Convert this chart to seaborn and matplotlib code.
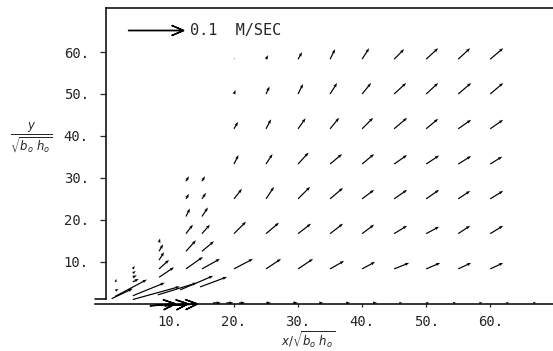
import numpy as np
import pandas as pd
import matplotlib
matplotlib.use("Agg")
import matplotlib.pyplot as plt
import seaborn as sns

# regular measuring grid, positions in x/sqrt(b0 h0), y/sqrt(b0 h0)
grid_x = [20, 25, 30, 35, 40, 45, 50, 55, 60]
grid_y = [58.3, 50.0, 41.7, 33.3, 25.0, 16.7, 8.3]

# velocity components in cm/s, one row per grid_y
grid_u = [
    [0.13, 0.36, 0.73, 0.91, 1.27, 1.82, 2.18, 2.18, 2.36],
    [0.27, 0.64, 0.91, 1.27, 1.64, 2.18, 2.18, 2.36, 2.36],
    [0.73, 0.91, 1.36, 1.64, 2.00, 2.36, 2.18, 2.36, 2.36],
    [0.82, 1.18, 1.91, 2.18, 2.18, 2.36, 2.36, 2.36, 2.18],
    [1.45, 1.45, 2.18, 2.36, 2.18, 2.36, 2.36, 2.18, 2.36],
    [2.18, 2.36, 2.36, 2.36, 2.18, 2.36, 2.36, 2.18, 2.36],
    [3.45, 2.73, 2.73, 2.55, 2.36, 2.73, 2.55, 2.36, 2.36],
]
grid_v = [
    [0.18, 0.73, 1.27, 1.82, 2.00, 1.82, 2.00, 2.00, 2.00],
    [0.73, 1.36, 1.82, 2.00, 2.00, 2.00, 2.00, 2.00, 2.00],
    [1.27, 1.73, 1.91, 2.00, 2.00, 2.00, 1.82, 1.64, 1.64],
    [1.64, 1.82, 2.09, 1.82, 1.82, 1.64, 1.55, 1.45, 1.36],
    [1.82, 2.18, 2.18, 2.00, 1.64, 1.64, 1.64, 1.45, 1.45],
    [2.18, 2.00, 1.82, 1.82, 1.64, 1.45, 1.27, 1.45, 1.45],
    [1.82, 1.82, 1.82, 1.45, 1.27, 1.09, 1.09, 1.09, 1.09],
]

# near field (jet region), denser measurements
near_x = [15.0, 15.0, 15.0, 15.0, 15.0, 15.0,
          12.5, 12.5, 12.5, 12.5, 12.5, 12.5,
          8.3, 8.3, 8.3, 8.3, 8.3,
          4.2, 4.2, 4.2, 4.2,
          1.5, 1.5,
          0.9, 1.4, 4.2, 4.2, 8.1, 11.6, 14.7]
near_y = [29.2, 25.0, 20.8, 16.7, 12.5, 8.3,
          29.2, 25.0, 20.8, 16.7, 12.5, 8.3,
          14.6, 12.5, 10.4, 8.3, 6.3,
          8.3, 7.3, 6.3, 5.2,
          5.2, 3.1,
          1.2, 1.7, 1.9, 1.0, 2.1, 3.3, 4.0]
near_u = [0.55, 0.73, 1.09, 1.45, 2.18, 3.27,
          0.55, 0.55, 0.73, 1.27, 1.82, 3.09,
          0.18, 0.73, 0.91, 1.82, 2.73,
          0.36, 0.55, 0.73, 1.09,
          0.18, 0.55,
          3.82, 5.82, 5.82, 8.55, 7.09, 6.00, 4.91]
near_v = [0.91, 1.09, 1.64, 1.64, 1.82, 1.82,
          0.91, 0.91, 1.45, 1.64, 2.00, 2.18,
          0.73, 1.27, 1.45, 1.64, 1.82,
          0.55, 0.36, 0.36, 0.55,
          0.55, 0.36,
          1.82, 3.09, 2.36, 2.36, 2.18, 2.55, 1.82]

# along the bed
bed_x = [16.7, 18.8, 20.8, 25.0, 29.2, 33.3, 37.5, 41.7, 45.8, 50.0, 54.2, 58.3, 62.5, 66.7]
bed_y = [0.2] * 14
bed_u = [1.45, 1.27, 1.09, 0.91, 0.91, 0.73, 0.73, 0.73, 0.55, 0.55, 0.55, 0.55, 0.55, 0.55]
bed_v = [0.0] * 14

# open-headed arrows at the jet exit level
open_x = [6.9, 9.2, 11.3]
open_y = [-0.5, -0.5, -0.3]
open_u = [4.55, 4.18, 3.45]
open_v = [0.36, 0.36, 0.18]

x_ticks = [10, 20, 30, 40, 50, 60]
x_tick_labels = ["10.", "20.", "30.", "40.", "50.", "60."]
y_ticks = [10, 20, 30, 40, 50, 60]
y_tick_labels = ["10.", "20.", "30.", "40.", "50.", "60."]

rows = []
for j, yy in enumerate(grid_y):
    for i, xx in enumerate(grid_x):
        rows.append((xx, yy, grid_u[j][i], grid_v[j][i]))
rows += list(zip(near_x, near_y, near_u, near_v))
rows += list(zip(bed_x, bed_y, bed_u, bed_v))
df = pd.DataFrame(rows, columns=["x", "y", "u", "v"])
df[["u", "v"]] = df[["u", "v"]] / 100.0  # m/s

df_open = pd.DataFrame({"x": open_x, "y": open_y, "u": open_u, "v": open_v})
df_open[["u", "v"]] = df_open[["u", "v"]] / 100.0

sns.set_style("white")
plt.rcParams["font.family"] = ["DejaVu Sans Mono", "DejaVu Sans"]

fig = plt.figure(figsize=(5.53, 3.51), dpi=100)
ax = fig.add_axes([95 / 553, 1 - 310 / 351, 458 / 553, 302 / 351])

scale = 0.1 / 0.55  # 0.1 m/s drawn as 0.55 inch
ax.quiver(df["x"], df["y"], df["u"], df["v"], angles="uv", scale_units="inches",
          scale=scale, pivot="tail", units="dots", width=1.2,
          headwidth=2.6, headlength=3.6, headaxislength=3.2, color="black")
# open chevron heads: zero head-axis length, drawn by the edge line
q_open = ax.quiver(df_open["x"], df_open["y"], df_open["u"], df_open["v"], angles="uv",
                   scale_units="inches", scale=scale, pivot="tail", units="dots",
                   width=0.2, headwidth=50, headlength=58, headaxislength=0,
                   facecolor="black", edgecolor="black", linewidth=1.0, clip_on=False)
ax.quiverkey(q_open, 183 / 553, 1 - 30 / 351, 0.1, "0.1  M/SEC", labelpos="E",
             coordinates="figure", labelsep=0.07,
             fontproperties={"family": "DejaVu Sans Mono", "size": 11})

ax.set_xlim(-1.7, 69.8)
ax.set_ylim(-1.5, 70.5)

ax.spines["right"].set_visible(False)
ax.spines["left"].set_position(("data", 0))
ax.spines["left"].set_bounds(1.2, 70.5)
ax.spines["bottom"].set_position(("data", 0))
ax.spines["top"].set_bounds(0, 69.8)
for s in ["left", "bottom", "top"]:
    ax.spines[s].set_linewidth(1.1)
    ax.spines[s].set_color("black")
ax.plot([-1.7, 0], [1.2, 1.2], color="black", lw=1.1, clip_on=False)

ax.set_xticks(x_ticks)
ax.set_xticklabels(x_tick_labels)
ax.set_yticks(y_ticks)
ax.set_yticklabels(y_tick_labels)
ax.tick_params(axis="y", direction="out", length=4.3, width=0.9, pad=8, labelsize=10, left=True)
ax.tick_params(axis="x", direction="out", length=2, width=0.9, pad=6, labelsize=10, bottom=True)

fig.text(31 / 553, 1 - 138 / 351, r"$\frac{y}{\sqrt{b_o\ h_o}}$", fontsize=12,
         ha="center", va="center")
fig.text(308 / 553, 1 - 340 / 351, r"$x/\sqrt{b_o\ h_o}$", fontsize=8.5,
         ha="center", va="center")

fig.savefig("out.png", dpi=100)
